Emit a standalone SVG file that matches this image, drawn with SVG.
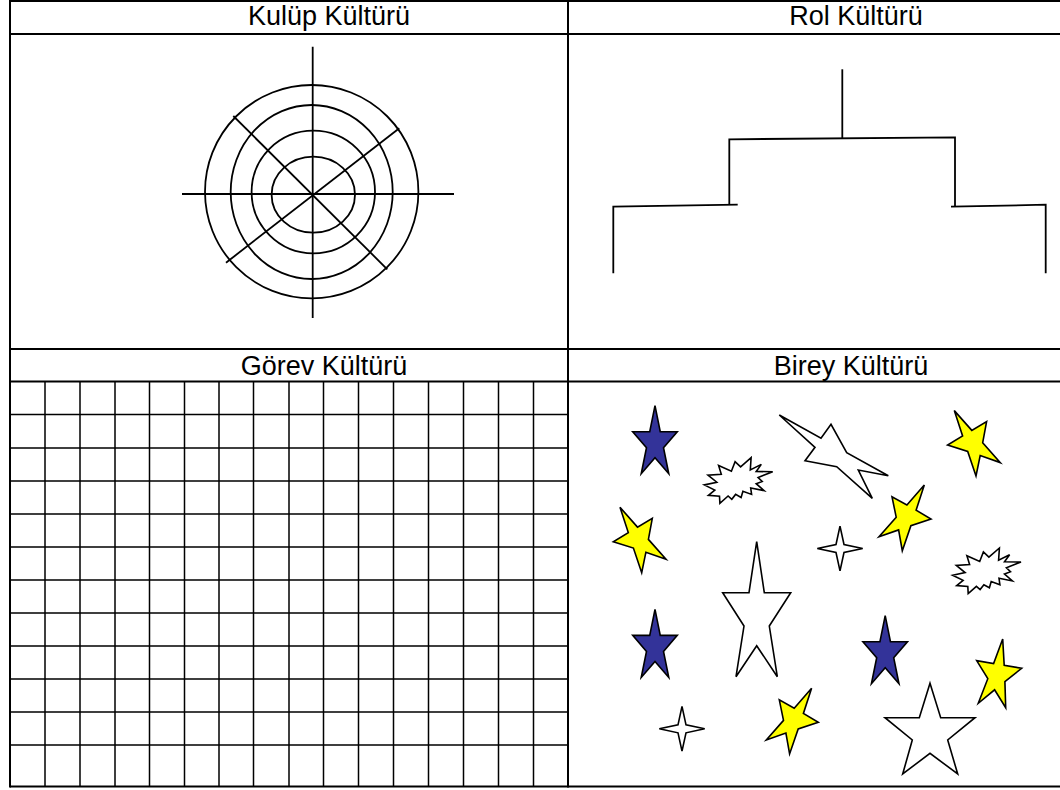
<svg xmlns="http://www.w3.org/2000/svg" xmlns:xlink="http://www.w3.org/1999/xlink" width="1060" height="790" viewBox="0 0 1060 790">
<style>
.t{font-family:"Liberation Sans",Arial,sans-serif;font-size:27px;fill:#000;text-anchor:middle}
.tb{stroke:#000;stroke-width:2;fill:none}
.gl{stroke:#000;stroke-width:1.5;fill:none}
.ln{stroke:#000;stroke-width:1.8;fill:none}
.sh{stroke:#000;stroke-width:1.6;stroke-linejoin:miter}
.blue{fill:#333399}
.yel{fill:#ffff00}
.wht{fill:#fff}
</style>
<defs>
<polygon id="bstar" points="0,-37.6 5.26,-11.62 22.28,-11.62 8.51,4.44 13.77,30.42 0,14.36 -13.77,30.42 -8.51,4.44 -22.28,-11.62 -5.26,-11.62"/>
<polygon id="ystarA" points="620,507.3 637.5,527.1 652.3,518.3 648.4,539.4 666,559.3 645.9,552.2 641.7,572.7 633.4,548.1 613.3,541.7 628.3,532.6"/>
<polygon id="ystarB" points="924.3,485 916.1,510.2 931,519 910.9,525.7 902.3,550.7 898.6,529.9 879,536.7 896.2,517.2 892,496.7 906.9,505"/>
<polygon id="expl" points="740.6,466.9 751.1,457.7 750.3,469.9 761.3,464.4 756.2,471.5 772.7,471.7 758.1,477.5 762.2,481.5 756.2,483.7 764.1,490.7 750.7,488 751.6,494.4 742.9,491.3 741.1,497.5 735.6,494.4 731.8,499.3 728.1,496 719.9,503.3 719.5,496.2 708.4,495.3 714.8,490.1 704.3,484.9 716.8,482.2 708,475.2 721.3,474.2 718.6,465.4 731.4,471.2 735.1,461.7"/>
<polygon id="four" points="0,-22.4 4,-4 22.7,0 4,4 0,22.4 -4,4 -22.7,0 -4,-4"/>
</defs>
<rect width="1060" height="790" fill="#fff"/>

<g id="table">
<line class="tb" x1="10" y1="1" x2="1060" y2="1"/>
<line class="tb" x1="10" y1="34" x2="1060" y2="34"/>
<line class="tb" x1="10" y1="349" x2="1060" y2="349"/>
<line class="tb" x1="10" y1="381.5" x2="1060" y2="381.5"/>
<line class="tb" x1="10" y1="786.5" x2="1060" y2="786.5"/>
<line class="tb" x1="10" y1="0" x2="10" y2="787.5"/>
<line class="tb" x1="568" y1="0" x2="568" y2="787.5"/>
</g>

<g id="cell-kulup">
<text class="t" x="329" y="25">Kulüp Kültürü</text>
<g class="ln">
<circle cx="311.7" cy="191.7" r="106.7"/>
<ellipse cx="311.7" cy="192" rx="81" ry="87"/>
<ellipse cx="313.3" cy="192" rx="61.7" ry="61.3"/>
<ellipse cx="313.3" cy="194.7" rx="41.7" ry="38"/>
<line x1="312.7" y1="46.7" x2="312.7" y2="318"/>
<line x1="182" y1="194" x2="454" y2="194"/>
<line x1="233.3" y1="116" x2="387.3" y2="269.3"/>
<line x1="399.3" y1="128.3" x2="226" y2="262.7"/>
</g>
</g>

<g id="cell-rol">
<text class="t" x="856" y="25">Rol Kültürü</text>
<g class="ln">
<line x1="842.3" y1="69.3" x2="842.3" y2="138.3"/>
<polyline points="729.3,205 729.3,139.3 955,137.3 955,206.7"/>
<polyline points="613.3,273.3 613.3,206.7 737.7,204.7"/>
<polyline points="951,206.7 1045.7,204.7 1045.7,273.3"/>
</g>
</g>

<g id="cell-gorev">
<text class="t" x="324" y="375">Görev Kültürü</text>
<g class="gl">
<path d="M45 381.5V786.5M80 381.5V786.5M115 381.5V786.5M149.5 381.5V786.5M184.5 381.5V786.5M219 381.5V786.5M253.5 381.5V786.5M289 381.5V786.5M323.5 381.5V786.5M358.5 381.5V786.5M393.5 381.5V786.5M428.5 381.5V786.5M463.5 381.5V786.5M498.5 381.5V786.5M533.5 381.5V786.5"/>
<path d="M10 414.5H568M10 448H568M10 481H568M10 514H568M10 547H568M10 580H568M10 613H568M10 646H568M10 679H568M10 712H568M10 745H568"/>
</g>
</g>

<g id="cell-birey">
<text class="t" x="851" y="375">Birey Kültürü</text>
<use xlink:href="#bstar" class="sh blue" transform="translate(655,443.3)"/>
<use xlink:href="#bstar" class="sh blue" transform="translate(655,647)"/>
<use xlink:href="#bstar" class="sh blue" transform="translate(885.2,653.3)"/>
<use xlink:href="#ystarA" class="sh yel"/>
<use xlink:href="#ystarA" class="sh yel" transform="translate(334.3,-96.7)"/>
<use xlink:href="#ystarB" class="sh yel"/>
<use xlink:href="#ystarB" class="sh yel" transform="translate(-112.7,203.2)"/>
<polygon class="sh yel" points="1002.7,639 1004.2,665.3 1021.7,668.3 1004.9,681.6 1005.7,707.7 994.6,689.8 978.3,703.3 987.8,678.7 976.7,660.7 993.6,663.6"/>
<use xlink:href="#expl" class="sh wht"/>
<use xlink:href="#expl" class="sh wht" transform="translate(248.3,90.3)"/>
<polygon class="sh wht" points="779.3,415 821,438.3 831,424.3 846.7,452.7 888.3,475.7 858.3,470 872.3,498.3 836.7,466.7 805,460.7 815,447.3"/>
<use xlink:href="#four" class="sh wht" transform="translate(840,548.5)"/>
<use xlink:href="#four" class="sh wht" transform="translate(682,728.8)"/>
<polygon class="sh wht" points="756.7,541.7 764.3,592.7 790.7,592.7 769.3,626 777.3,676.7 756.7,645.7 736,676.7 744,626 722.7,592.7 749,592.7"/>
<polygon class="sh wht" points="930,683.3 940.7,717.7 975,717.7 947.7,740 957.7,774 930,753.3 902.7,774 912.3,740 885,717.7 919.3,717.7"/>
</g>
</svg>
